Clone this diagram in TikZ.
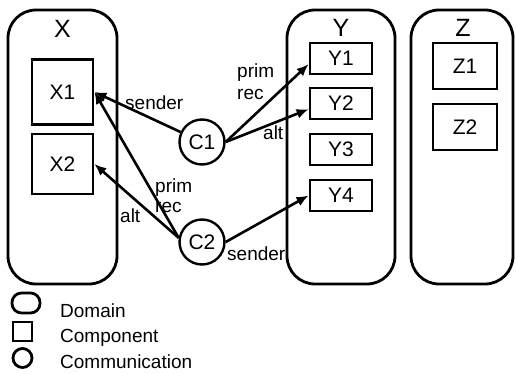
\documentclass[tikz,border=0pt]{standalone}
\usepackage{fontspec}
\setmainfont{Liberation Sans}
\usetikzlibrary{arrows.meta}
\begin{document}
\begin{tikzpicture}[x=1pt,y=-1pt,
  dombox/.style={draw, line width=2.8pt, rounded corners=28pt, inner sep=0pt},
  dlabel/.style={inner sep=0pt, font=\fontsize{25}{27}\selectfont},
  comp/.style={draw, line width=2.8pt, inner sep=0pt, font=\fontsize{21}{24}\selectfont},
  comm/.style={draw, circle, line width=2.4pt, inner sep=0pt, minimum size=45pt, font=\fontsize{21}{24}\selectfont},
  conn/.style={line width=2.6pt, -{Latex[length=12pt,width=10pt]}},
  lab/.style={inner sep=0pt, font=\fontsize{19}{21}\selectfont},
  lab2/.style={inner sep=0pt, align=left, font=\fontsize{19}{21}\selectfont},
  legtext/.style={inner sep=0pt, anchor=base west, font=\fontsize{19}{21}\selectfont}]
\useasboundingbox (0,0) rectangle (516,374);
% domains
\node[dombox, minimum width=109pt, minimum height=274pt] (X) at (62.5,147) {};
\node[dombox, minimum width=108pt, minimum height=274pt] (Y) at (341,147) {};
\node[dombox, minimum width=102pt, minimum height=274pt] (Z) at (462,147) {};
\node[dlabel] (Xl) at (62.5,29) {X};
\node[dlabel] (Yl) at (341,28) {Y};
\node[dlabel] (Zl) at (463,28) {Z};
% components
\node[comp, minimum width=61pt, minimum height=65pt] (X1) at (62.5,92) {X1};
\node[comp, minimum width=61pt, minimum height=60pt] (X2) at (62.5,164) {X2};
\node[comp, minimum width=62pt, minimum height=31pt] (Y1) at (341,58.5) {Y1};
\node[comp, minimum width=62pt, minimum height=31pt] (Y2) at (341,103.5) {Y2};
\node[comp, minimum width=62pt, minimum height=31pt] (Y3) at (341,149.5) {Y3};
\node[comp, minimum width=62pt, minimum height=31pt] (Y4) at (341,195.5) {Y4};
\node[comp, minimum width=64pt, minimum height=46pt] (Z1) at (465,66) {Z1};
\node[comp, minimum width=64pt, minimum height=46pt] (Z2) at (465,127) {Z2};
% communications
\node[comm] (C1) at (202,142) {C1};
\node[comm] (C2) at (202,242) {C2};
% connectors
\draw[conn] (C1) -- (X1.east);
\draw[conn] (C2.170) -- (X1.east);
\draw[conn] (C2.170) -- (X2.east);
\draw[conn] (C1.east) -- (Y1.190);
\draw[conn] (C1.east) -- (Y2.190);
\draw[conn] (C2.east) -- (Y4.west);
% connector labels
\node[lab, anchor=base west] (l1) at (125,110) {sender};
\node[lab2, anchor=west] (l2) at (155,196) {prim\\[-1pt]rec};
\node[lab, anchor=base west] (l3) at (120,222) {alt};
\node[lab2, anchor=west] (l4) at (237,82) {prim\\[1pt]rec};
\node[lab, anchor=base west] (l5) at (263,140) {alt};
\node[lab, anchor=base west] (l6) at (227,260) {sender};
% legend
\node[draw, line width=2.8pt, rounded corners=9.5pt, minimum width=28pt, minimum height=20pt, inner sep=0pt] (LD) at (26,303) {};
\node[draw, line width=2.8pt, minimum size=19pt, inner sep=0pt] (LC) at (22.5,331.5) {};
\node[draw, circle, line width=2.8pt, minimum size=19pt, inner sep=0pt] (LM) at (22.5,358) {};
\node[legtext] (tD) at (60,317) {Domain};
\node[legtext] (tC) at (60,342) {Component};
\node[legtext] (tM) at (60,368) {Communication};
\end{tikzpicture}
\end{document}
